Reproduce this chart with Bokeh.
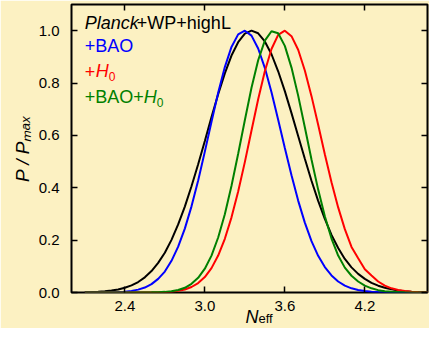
from bokeh.plotting import figure
from bokeh.models import (Range1d, FixedTicker, LinearAxis, Label, Title,
                          CustomJSTickFormatter, PrintfTickFormatter)
from bokeh.embed import file_html
from bokeh.resources import INLINE

# ---- data ----
n_eff = [2.10, 2.15, 2.20, 2.25, 2.30, 2.35, 2.40, 2.45, 2.50, 2.55,
         2.60, 2.65, 2.70, 2.75, 2.80, 2.85, 2.90, 2.95, 3.00, 3.05,
         3.10, 3.15, 3.20, 3.25, 3.30, 3.35, 3.40, 3.45, 3.50, 3.55,
         3.60, 3.65, 3.70, 3.75, 3.80, 3.85, 3.90, 3.95, 4.00, 4.05,
         4.10, 4.15, 4.20, 4.25, 4.30, 4.35, 4.40, 4.45, 4.50, 4.55,
         4.60, 4.65, 4.70]

planck_wp_highl = [0.001, 0.0016, 0.0028, 0.0046, 0.0074, 0.0116, 0.018, 0.027, 0.040, 0.058,
                   0.082, 0.113, 0.152, 0.201, 0.260, 0.328, 0.406, 0.490, 0.579, 0.670,
                   0.757, 0.837, 0.905, 0.956, 0.989, 1.000, 0.990, 0.959, 0.910, 0.845,
                   0.769, 0.685, 0.598, 0.511, 0.427, 0.350, 0.281, 0.220, 0.170, 0.128,
                   0.096, 0.071, 0.052, 0.037, 0.026, 0.018, 0.012, 0.008, 0.005, 0.003,
                   0.002, 0.001, 0.0005]

plus_bao = [0.0, 0.0001, 0.0002, 0.0004, 0.0009, 0.0017, 0.0033, 0.0062, 0.011, 0.019,
            0.032, 0.052, 0.080, 0.121, 0.175, 0.244, 0.329, 0.428, 0.538, 0.652,
            0.763, 0.861, 0.938, 0.986, 1.000, 0.981, 0.932, 0.858, 0.765, 0.660,
            0.552, 0.448, 0.351, 0.267, 0.196, 0.140, 0.097, 0.065, 0.042, 0.026,
            0.016, 0.0095, 0.0054, 0.003, 0.0016, 0.0008, 0.0004, 0.0002, 0.0001, 0.0,
            0.0, 0.0, 0.0]

plus_h0 = [0.0, 0.0, 0.0, 0.0, 0.0, 0.0, 0.0, 0.0, 0.0, 0.0001,
           0.0004, 0.0008, 0.0016, 0.0033, 0.0064, 0.0117, 0.021, 0.036, 0.059, 0.093,
           0.141, 0.205, 0.287, 0.386, 0.498, 0.619, 0.738, 0.845, 0.930, 0.984,
           1.000, 0.979, 0.927, 0.848, 0.750, 0.641, 0.528, 0.421, 0.325, 0.242,
           0.174, 0.131, 0.089, 0.065, 0.042, 0.026, 0.016, 0.0095, 0.0054, 0.003,
           0.0016, 0.0008, 0.0004]

plus_bao_h0 = [0.0, 0.0, 0.0, 0.0, 0.0, 0.0, 0.0, 0.0, 0.0001, 0.0002,
               0.0005, 0.0011, 0.0024, 0.005, 0.0098, 0.018, 0.033, 0.056, 0.091, 0.141,
               0.210, 0.299, 0.408, 0.530, 0.658, 0.782, 0.887, 0.962, 0.998, 0.990,
               0.942, 0.859, 0.752, 0.631, 0.508, 0.393, 0.291, 0.206, 0.141, 0.095,
               0.064, 0.042, 0.026, 0.016, 0.009, 0.005, 0.003, 0.0015, 0.0008, 0.0004,
               0.0002, 0.0001, 0.0]

x_ticks = [2.4, 3.0, 3.6, 4.2]
y_ticks = [0.0, 0.2, 0.4, 0.6, 0.8, 1.0]
series_colors = ["black", "blue", "red", "green"]

BG = "#fcf1c2"
FONT = "Liberation Sans"
W, H = 429, 328

p = figure(width=W, height=H, output_backend="svg", toolbar_location=None,
           x_range=Range1d(2.0, 4.67), y_range=Range1d(0.0, 1.1),
           min_border_left=71, min_border_right=2, min_border_top=4, min_border_bottom=36,
           background_fill_color=BG, border_fill_color=BG)
p.grid.visible = False
p.outline_line_color = "black"
p.outline_line_width = 2

p.add_layout(LinearAxis(), "right")
p.add_layout(LinearAxis(), "above")

for ax in p.xaxis:
    ax.ticker = FixedTicker(ticks=x_ticks)
    ax.major_label_standoff = 8
for ax in p.yaxis:
    ax.ticker = FixedTicker(ticks=y_ticks)
    ax.major_label_standoff = 12

for ax in p.axis:
    ax.axis_line_color = None
    ax.major_tick_in = 6
    ax.major_tick_out = 0
    ax.major_tick_line_width = 1.5
    ax.major_tick_line_color = "black"
    ax.minor_tick_line_color = None
    ax.major_label_text_font = FONT
    ax.major_label_text_font_size = "15px"
    ax.major_label_text_color = "black"
    ax.formatter = PrintfTickFormatter(format="%.1f")

for ax in [p.right[0], p.above[0]]:
    ax.formatter = CustomJSTickFormatter(code="return ''")
    ax.major_label_text_font_size = "0px"
    ax.major_label_standoff = 0

# y-axis title
yax = p.left[0]
yax.axis_label = "P / P\u2098\u2090\u2093"
yax.axis_label_text_font = FONT
yax.axis_label_text_font_size = "19px"
yax.axis_label_text_font_style = "italic"
yax.axis_label_text_color = "black"
yax.axis_label_standoff = 3

ys = [planck_wp_highl, plus_bao, plus_h0, plus_bao_h0]
for y, c in zip(ys, series_colors):
    p.line(n_eff, y, line_color=c, line_width=2)

def lab(x, y, text, color, size="18px", style="normal", xo=0, yo=0):
    p.add_layout(Label(x=x, y=y, text=text, text_color=color,
                       text_font=FONT, text_font_size=size, text_font_style=style,
                       x_offset=xo, y_offset=yo, text_baseline="middle", text_align="left"))

# ---- legend text (top-left, inside the frame) ----
lx = 2.10
lab(lx, 1.03, "Planck", "black", style="italic")
lab(lx, 1.03, "+WP+highL", "black", xo=52)
lab(lx, 0.94, "+BAO", "blue")
lab(lx, 0.845, "+", "red")
lab(lx, 0.845, "H", "red", style="italic", xo=11)
lab(lx, 0.845, "0", "red", size="12px", xo=24, yo=-5)
lab(lx, 0.745, "+BAO+", "green")
lab(lx, 0.745, "H", "green", style="italic", xo=59)
lab(lx, 0.745, "0", "green", size="12px", xo=72, yo=-5)

# ---- x-axis title as two side-panel titles: N (italic) + subscript eff ----
p.add_layout(Title(text="N", align="left", offset=174, vertical_align="bottom",
                   standoff=-18, text_font=FONT, text_font_size="18px",
                   text_font_style="italic", text_color="black"), "below")
p.add_layout(Title(text="eff", align="left", offset=187, vertical_align="bottom",
                   standoff=-17, text_font=FONT, text_font_size="13px",
                   text_font_style="normal", text_color="black"), "below")

open("out.html", "w").write(file_html(p, INLINE))
